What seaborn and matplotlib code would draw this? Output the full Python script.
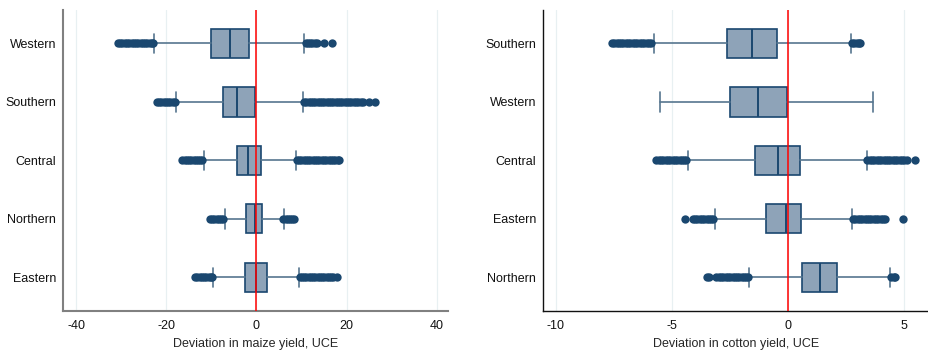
import matplotlib
matplotlib.use("Agg")
import matplotlib.pyplot as plt
import seaborn as sns
import pandas as pd

# ---- Maize yield deviation (UCE) by region ----
maize_regions = ["Western", "Southern", "Central", "Northern", "Eastern"]
maize_q1 = [-10.1, -7.4, -4.4, -2.2, -2.6]
maize_med = [-5.9, -4.3, -1.8, -0.4, 0.0]
maize_q3 = [-1.7, -0.3, 1.0, 1.25, 2.35]
maize_whislo = [-22.6, -17.9, -11.7, -7.0, -9.7]
maize_whishi = [10.6, 10.4, 8.8, 6.1, 9.4]
maize_fliers = [
    [-30.7, -30.2, -29.7, -29.2, -28.7, -28.2, -27.7, -27.2, -26.7, -26.2,
     -25.7, -25.2, -24.7, -24.2, -23.7, -23.2, -22.9,
     10.9, 11.4, 11.9, 12.4, 12.9, 13.4, 14.9, 16.7],
    [-22.1, -21.6, -21.1, -20.6, -20.1, -19.6, -19.1, -18.6, -18.1,
     10.6, 11.1, 11.6, 12.1, 12.6, 13.1, 13.6, 14.1, 14.6, 15.1, 15.6, 16.1,
     16.6, 17.1, 17.6, 18.1, 18.6, 19.1, 19.6, 20.1, 20.6, 21.1, 21.6, 22.1,
     22.6, 23.1, 23.6, 25.0, 26.4],
    [-16.4, -15.9, -15.4, -14.9, -14.4, -13.9, -13.4, -12.9, -12.4, -12.0,
     9.0, 9.5, 10.0, 10.5, 11.0, 11.5, 12.0, 12.5, 13.0, 13.5, 14.0, 14.5,
     15.0, 15.5, 16.0, 16.5, 17.0, 17.5, 18.0, 18.4],
    [-10.3, -9.8, -9.3, -8.8, -8.3, -7.8, -7.3,
     6.0, 6.5, 7.0, 7.5, 8.0, 8.4],
    [-13.6, -13.1, -12.6, -12.1, -11.6, -11.1, -10.6, -10.1, -9.8,
     9.6, 10.1, 10.6, 11.1, 11.6, 12.1, 12.6, 13.1, 13.6, 14.1, 14.6, 15.1,
     15.6, 16.1, 16.6, 17.0, 17.9],
]
maize_ticks = [-40, -20, 0, 20, 40]

# ---- Cotton yield deviation (UCE) by region ----
cotton_regions = ["Southern", "Western", "Central", "Eastern", "Northern"]
cotton_q1 = [-2.63, -2.51, -1.44, -0.93, 0.59]
cotton_med = [-1.54, -1.31, -0.45, -0.09, 1.38]
cotton_q3 = [-0.49, -0.03, 0.50, 0.55, 2.13]
cotton_whislo = [-5.79, -5.53, -4.32, -3.15, -1.70]
cotton_whishi = [2.70, 3.68, 3.39, 2.76, 4.40]
cotton_fliers = [
    [-7.59, -7.49, -7.39, -7.29, -7.19, -7.09, -6.99, -6.89, -6.79, -6.69,
     -6.59, -6.49, -6.39, -6.29, -6.19, -6.09, -5.99, -5.89,
     2.76, 2.86, 2.96, 3.05, 3.12],
    [],
    [-5.67, -5.57, -5.47, -5.37, -5.27, -5.17, -5.07, -4.97, -4.87, -4.77,
     -4.67, -4.57, -4.47, -4.38,
     3.42, 3.52, 3.62, 3.72, 3.82, 3.92, 4.02, 4.12, 4.22, 4.32, 4.42, 4.52,
     4.62, 4.72, 4.82, 4.92, 5.02, 5.13, 5.49],
    [-4.44, -4.11, -4.01, -3.91, -3.81, -3.71, -3.61, -3.51, -3.41, -3.31,
     -3.21,
     2.80, 2.90, 3.00, 3.10, 3.20, 3.30, 3.40, 3.50, 3.60, 3.70, 3.80, 3.90,
     4.00, 4.10, 4.20, 4.97],
    [-3.49, -3.40, -3.09, -2.99, -2.89, -2.79, -2.69, -2.59, -2.49, -2.39,
     -2.29, -2.19, -2.09, -1.99, -1.89, -1.79, -1.73,
     4.45, 4.55, 4.63],
]
cotton_ticks = [-10, -5, 0, 5]

sns.set_theme(style="white")
plt.rcParams["font.family"] = ["Liberation Sans", "DejaVu Sans"]

NAVY = "#1a476f"
FILL = "#8ea3b8"
WHISK = "#56768f"
GRID = "#e8f0f2"


def draw_panel(ax, regions, q1, med, q3, lo, hi, fliers, ticks, xlim,
               xlabel, spine_color, spine_lw):
    stats = []
    for i, name in enumerate(regions):
        stats.append(dict(label=name, q1=q1[i], med=med[i], q3=q3[i],
                          whislo=lo[i], whishi=hi[i], fliers=[]))
    pos = list(range(len(regions)))
    for t in ticks:
        ax.axvline(t, color=GRID, lw=0.9, zorder=0)
    ax.bxp(stats, positions=pos, widths=0.5, capwidths=0.33,
           orientation="horizontal", showfliers=False, patch_artist=True,
           boxprops=dict(facecolor=FILL, edgecolor=NAVY, linewidth=1.2),
           medianprops=dict(color=NAVY, linewidth=1.4),
           whiskerprops=dict(color=WHISK, linewidth=1.2),
           capprops=dict(color=WHISK, linewidth=1.2),
           manage_ticks=False)
    rows = [(v, i) for i, fl in enumerate(fliers) for v in fl]
    df = pd.DataFrame(rows, columns=["value", "pos"])
    sns.scatterplot(data=df, x="value", y="pos", ax=ax, color=NAVY, s=36,
                    edgecolor=NAVY, linewidth=0, zorder=3, legend=False)
    ax.axvline(0, color="red", lw=1.1, zorder=4)
    ax.set_yticks(pos)
    ax.set_yticklabels(regions)
    ax.set_ylim(len(regions) - 0.43, -0.57)
    ax.set_xlim(*xlim)
    ax.set_xticks(ticks)
    ax.set_xticklabels([str(t) for t in ticks])
    ax.set_xlabel(xlabel, fontsize=9, labelpad=4)
    ax.set_ylabel("")
    ax.tick_params(axis="y", length=0, pad=5, labelsize=9, colors="#111111")
    ax.tick_params(axis="x", length=4, width=0.8, pad=3, labelsize=9,
                   color=spine_color, labelcolor="#111111")
    for side in ("top", "right"):
        ax.spines[side].set_visible(False)
    for side in ("left", "bottom"):
        ax.spines[side].set_color(spine_color)
        ax.spines[side].set_linewidth(spine_lw)


fig = plt.figure(figsize=(9.29, 3.5), dpi=100)
ax1 = fig.add_axes([0.0678, 0.1123, 0.4144, 0.859])
ax2 = fig.add_axes([0.5845, 0.1123, 0.4155, 0.859])

draw_panel(ax1, maize_regions, maize_q1, maize_med, maize_q3, maize_whislo,
           maize_whishi, maize_fliers, maize_ticks, (-42.9, 42.5),
           "Deviation in maize yield, UCE", "#808080", 1.5)
draw_panel(ax2, cotton_regions, cotton_q1, cotton_med, cotton_q3,
           cotton_whislo, cotton_whishi, cotton_fliers, cotton_ticks,
           (-10.56, 6.08), "Deviation in cotton yield, UCE", "#111111", 1.0)

fig.savefig("out.png", dpi=100)
